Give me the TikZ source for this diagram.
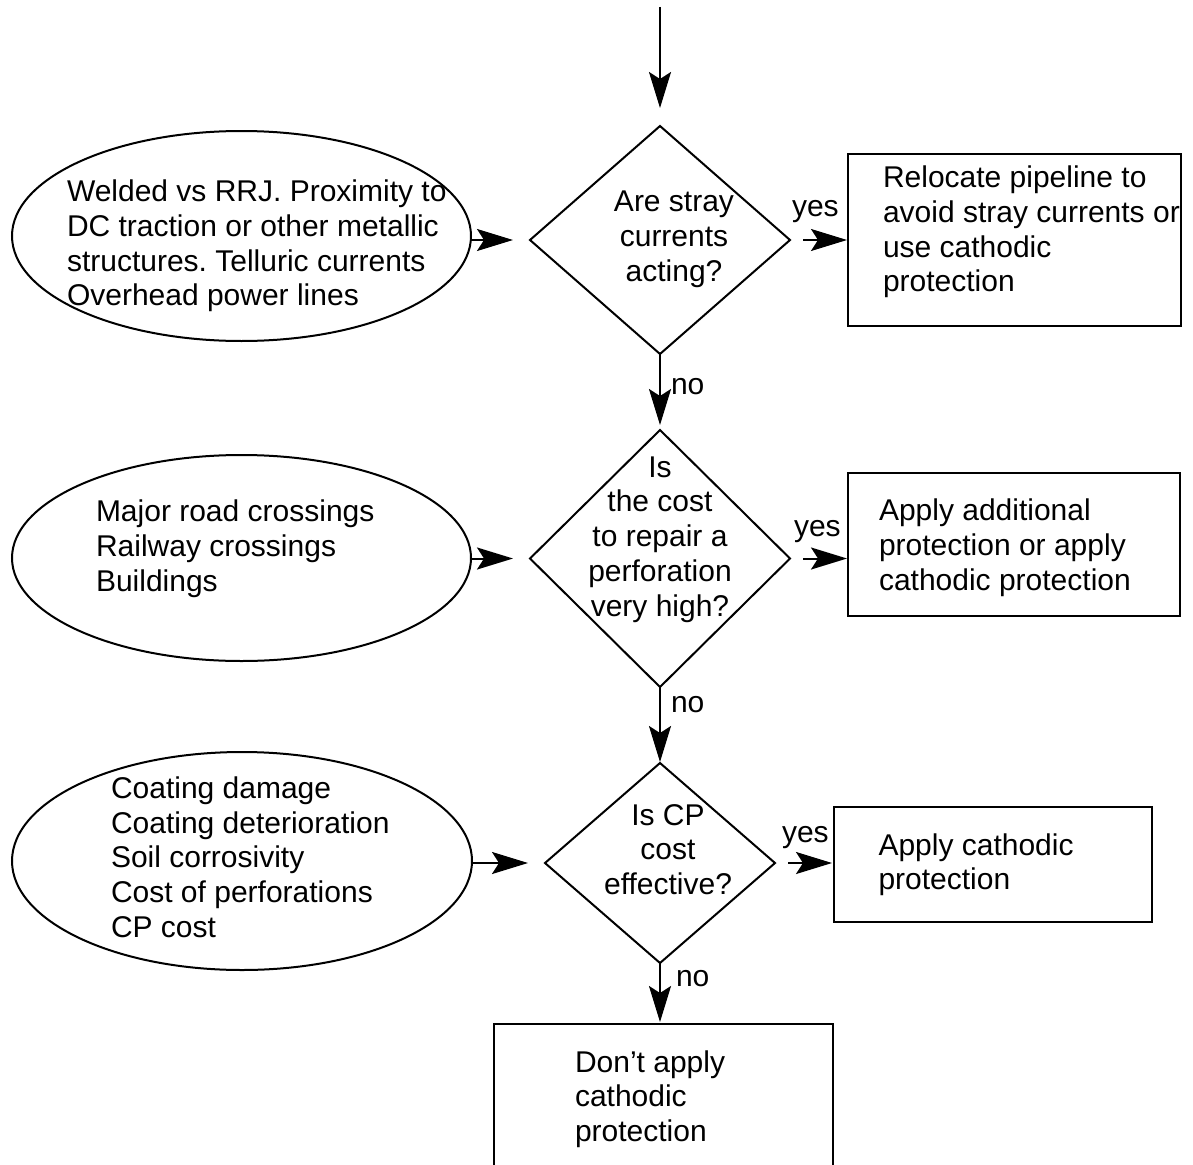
\documentclass[tikz,border=0pt]{standalone}
\usepackage{fontspec}
\setmainfont{Liberation Sans}
\usetikzlibrary{shapes.geometric,arrows.meta}
\frenchspacing
\begin{document}
\begin{tikzpicture}[x=1pt,y=-1pt,
  every node/.style={inner sep=0pt, outer sep=0pt},
  shp/.style={draw=black, line width=2pt},
  ell/.style={shp, ellipse},
  dia/.style={shp, diamond},
  box/.style={shp, rectangle},
  txt/.style={font=\fontsize{30}{34.7}\selectfont, align=left, anchor=north west},
  ctxt/.style={font=\fontsize{30}{34.7}\selectfont, align=center, anchor=north},
  lbl/.style={font=\fontsize{30}{34.7}\selectfont, anchor=base west},
  arr/.style={line width=2pt, -{Stealth[length=36pt,width=22pt,inset=7pt]}}]
\useasboundingbox (0,0) rectangle (1193,1164);
\clip (0,0) rectangle (1193,1164);

% shapes
\node[ell, minimum width=459pt, minimum height=210pt] (e1) at (241.5,236) {};
\node[ell, minimum width=459pt, minimum height=206pt] (e2) at (241.5,558) {};
\node[ell, minimum width=460pt, minimum height=218pt] (e3) at (242,861) {};

\node[dia, minimum width=260pt, minimum height=228pt] (d1) at (660,240) {};
\node[dia, minimum width=260pt, minimum height=257pt] (d2) at (660,558.5) {};
\node[dia, minimum width=230pt, minimum height=200pt] (d3) at (660,863) {};

\node[box, minimum width=333pt, minimum height=172pt] (b1) at (1014.5,240) {};
\node[box, minimum width=332pt, minimum height=143pt] (b2) at (1014,544.5) {};
\node[box, minimum width=318pt, minimum height=115pt] (b3) at (993,864.5) {};
\node[box, minimum width=339pt, minimum height=166pt] (b4) at (663.5,1107) {};

% texts
\node[txt] (te1) at (67,177.4) {\strut Welded vs RRJ. Proximity to\\DC traction or other metallic\\structures. Telluric currents\\Overhead power lines};
\node[txt] (te2) at (96,497.7) {\strut Major road crossings\\Railway crossings\\Buildings};
\node[txt] (te3) at (111,774.2) {\strut Coating damage\\Coating deterioration\\Soil corrosivity\\Cost of perforations\\CP cost};

\node[ctxt] (td1) at (674,187.7) {\strut Are stray\\currents\\acting?};
\node[ctxt] (td2) at (660,453) {\strut Is\\the cost\\to repair a\\perforation\\very high?};
\node[ctxt] (td3) at (668,800.7) {\strut Is CP\\cost\\effective?};

\node[txt] (tb1) at (883,163.4) {\strut Relocate pipeline to\\avoid stray currents or\\use cathodic\\protection};
\node[txt] (tb2) at (879,496.7) {\strut Apply additional\\protection or apply\\cathodic protection};
\node[txt] (tb3) at (878.5,830.7) {\strut Apply cathodic\\protection};
\node[txt] (tb4) at (575,1047.7) {\strut Don’t apply\\cathodic\\protection};

% labels
\node[lbl] (y1) at (792,216) {yes};
\node[lbl] (n1) at (671,394) {no};
\node[lbl] (y2) at (794,536) {yes};
\node[lbl] (n2) at (671,712) {no};
\node[lbl] (y3) at (782,842) {yes};
\node[lbl] (n3) at (676,986) {no};

% connectors
\coordinate (start) at (660,7);
\draw[arr, shorten >=18pt] (start) -- (d1.north);
\draw[arr, shorten >=17pt] (e1.east |- d1.west) -- (d1.west);
\draw[arr, shorten <=13pt, shorten >=1pt] (d1.east) -- (d1.east -| b1.west);
\draw[arr, shorten >=5pt] (d1.south) -- (d2.north);
\draw[arr, shorten >=17pt] (e2.east |- d2.west) -- (d2.west);
\draw[arr, shorten <=13pt, shorten >=1pt] (d2.east) -- (d2.east -| b2.west);
\draw[arr, shorten >=1pt] (d2.south) -- (d3.north);
\draw[arr, shorten >=17pt] (e3.east |- d3.west) -- (d3.west);
\draw[arr, shorten <=13pt, shorten >=2pt] (d3.east) -- (d3.east -| b3.west);
\draw[arr, shorten >=2pt] (d3.south) -- (d3.south |- b4.north);
\end{tikzpicture}
\end{document}
